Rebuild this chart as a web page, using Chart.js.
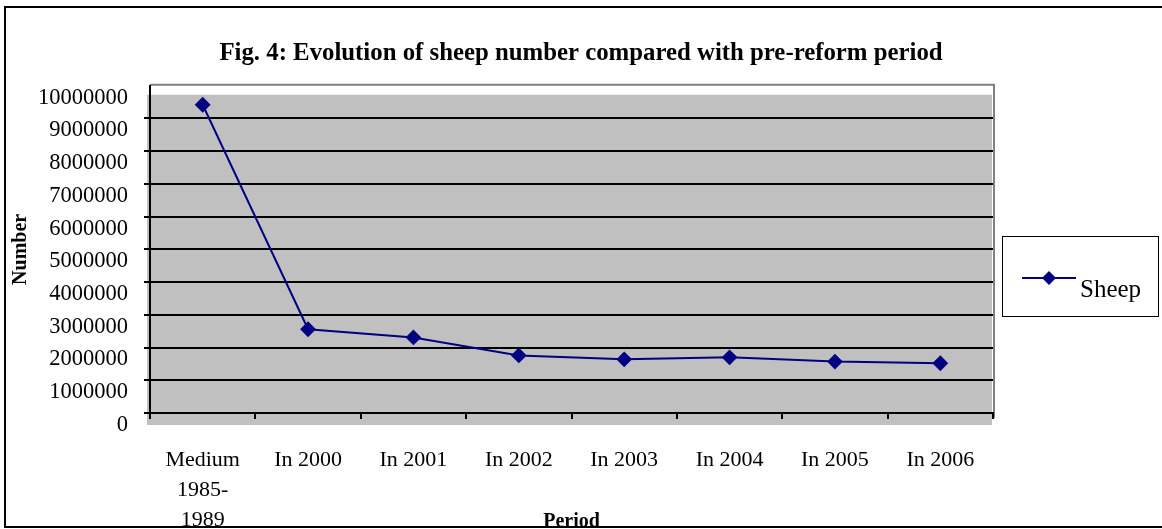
<html lang="en">
  <head>
    <meta charset="UTF-8" />
    <title>Sheep</title>
    <script src="https://cdn.jsdelivr.net/npm/chart.js"></script>
    <style>
      body { margin: 0; background: #fff; }
    </style>
  </head>
  <body>
    <canvas id="sheep-chart" width="1162" height="529"></canvas>
    <script>
      // values
      const periods = [["Medium", "1985-", "1989"], "In 2000", "In 2001", "In 2002", "In 2003", "In 2004", "In 2005", "In 2006"];
      const sheep = [9420000, 2560000, 2310000, 1760000, 1640000, 1700000, 1570000, 1520000];
      const yTicks = [0, 1000000, 2000000, 3000000, 4000000, 5000000, 6000000, 7000000, 8000000, 9000000, 10000000];

      const serif = "'Liberation Serif', 'DejaVu Serif', serif";
      const navy = "#000080";

      // grey back wall, shifted a bit like the old 3d look
      const wallPlugin = {
        id: "wall",
        beforeDraw(chart) {
          const a = chart.chartArea;
          const c = chart.ctx;
          c.save();
          c.fillStyle = "#c0c0c0";
          c.fillRect(a.left - 3, a.top + 9, a.right - a.left + 2, a.bottom - a.top + 3);
          c.strokeStyle = "#808080";
          c.lineWidth = 2;
          c.beginPath();
          c.moveTo(a.left, a.top - 1);
          c.lineTo(a.right + 1, a.top - 1);
          c.lineTo(a.right + 1, a.bottom + 5);
          c.stroke();
          c.restore();
        },
        afterDraw(chart) {
          const c = chart.ctx;
          const ds = chart.data.datasets[0];
          c.save();
          // legend box
          c.strokeStyle = "#000";
          c.lineWidth = 1;
          c.strokeRect(1002.5, 236.5, 156, 80);
          c.strokeStyle = ds.borderColor;
          c.lineWidth = 2;
          c.beginPath();
          c.moveTo(1022, 278);
          c.lineTo(1076, 278);
          c.stroke();
          c.fillStyle = ds.pointBackgroundColor;
          c.beginPath();
          c.moveTo(1049, 271);
          c.lineTo(1056, 278);
          c.lineTo(1049, 285);
          c.lineTo(1042, 278);
          c.closePath();
          c.fill();
          c.fillStyle = "#000";
          c.font = "25px " + serif;
          c.textBaseline = "alphabetic";
          c.fillText(ds.label, 1080, 297);
          // outer frame
          c.strokeStyle = "#000";
          c.lineWidth = 2;
          c.strokeRect(5, 7, 1170, 520);
          c.restore();
        },
      };

      new Chart(document.getElementById("sheep-chart"), {
        type: "line",
        data: {
          labels: periods,
          datasets: [
            {
              label: "Sheep",
              data: sheep,
              borderColor: navy,
              backgroundColor: navy,
              pointBackgroundColor: navy,
              pointBorderColor: navy,
              borderWidth: 2,
              pointStyle: "rectRot",
              pointRadius: 6.5,
              tension: 0,
              fill: false,
            },
          ],
        },
        options: {
          responsive: false,
          animation: false,
          layout: { padding: 0 },
          plugins: {
            legend: { display: false },
            tooltip: { enabled: false },
            title: {
              display: true,
              text: "Fig. 4: Evolution of sheep number compared with pre-reform period",
              color: "#000",
              font: { family: serif, size: 24.8, weight: "bold", lineHeight: 1.2 },
              padding: { top: 39, bottom: 17 },
            },
          },
          scales: {
            x: {
              offset: true,
              afterFit: (s) => { s.height = 116; },
              grid: {
                offset: true,
                drawOnChartArea: false,
                color: "#000",
                lineWidth: 2,
                tickLength: 6,
              },
              border: { display: true, color: "#000", width: 2 },
              ticks: {
                color: "#000",
                font: { family: serif, size: 22, lineHeight: 1.36 },
                padding: 26,
                maxRotation: 0,
                autoSkip: false,
              },
              title: {
                display: true,
                text: "Period",
                color: "#000",
                font: { family: serif, size: 20, weight: "bold", lineHeight: 1.2 },
                padding: { top: 0, bottom: -5 },
              },
            },
            y: {
              min: 0,
              max: 10000000,
              afterFit: (s) => { s.width = 150; },
              afterBuildTicks: (s) => { s.ticks = yTicks.map((v) => ({ value: v })); },
              grid: {
                color: (ctx) => (ctx.tick && ctx.tick.value === 10000000 ? "rgba(0,0,0,0)" : "#000"),
                lineWidth: 2,
                tickLength: 6,
              },
              border: { display: true, color: "#000", width: 2 },
              ticks: {
                color: "#000",
                font: { family: serif, size: 22.5 },
                padding: 16,
                labelOffset: 12,
                callback: (v) => String(v),
              },
              title: {
                display: true,
                text: "Number",
                color: "#000",
                font: { family: serif, size: 20, weight: "bold", lineHeight: 1.2 },
                padding: { top: 9, bottom: 0 },
              },
            },
            // empty right-hand axis: keeps room for the legend so the title centres on the page
            right: {
              position: "right",
              afterFit: (s) => { s.width = 169; },
              grid: { display: false },
              border: { display: false },
              ticks: { display: false },
            },
          },
        },
        plugins: [wallPlugin],
      });
    </script>
  </body>
</html>
